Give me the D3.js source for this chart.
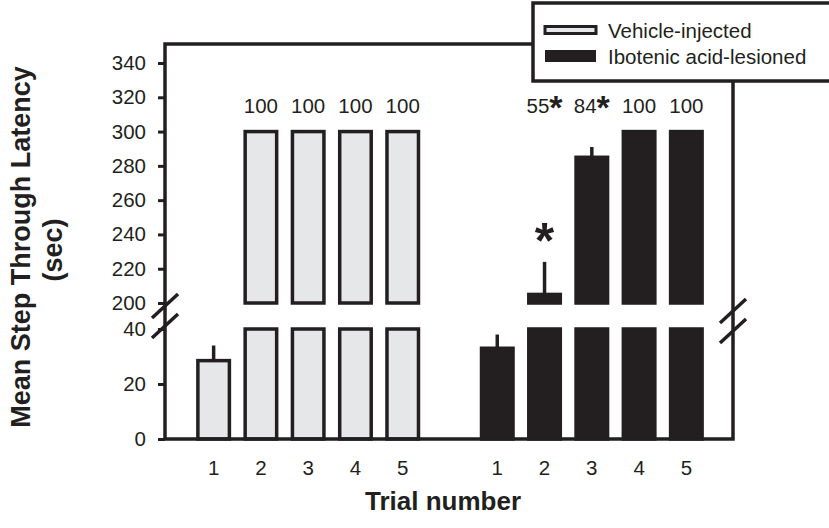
<!DOCTYPE html>
<html>
<head>
<meta charset="utf-8">
<script src="https://cdn.jsdelivr.net/npm/d3@7"></script>
<style>
  body { margin: 0; background: #fff; }
  text { font-family: "Liberation Sans", Arial, sans-serif; fill: #231f20; }
</style>
</head>
<body>
<svg id="chart" width="829" height="528"></svg>
<script>
// data
const trials = ['1', '2', '3', '4', '5']
const groups = ['Vehicle-injected', 'Ibotenic acid-lesioned']
const vehicleMean = [28.5, 300, 300, 300, 300]
const vehicleErr = [5.5, 0, 0, 0, 0]
const lesionMean = [33, 205, 285, 300, 300]
const lesionErr = [5, 19, 6, 0, 0]
const vehiclePct = ['', '100', '100', '100', '100']
const lesionPct = ['', '55', '84', '100', '100']
const lesionPctSig = [false, true, true, false, false]
const lesionBarSig = [false, true, false, false, false]
const upperTicks = [200, 220, 240, 260, 280, 300, 320, 340]
const lowerTicks = [0, 20, 40]

const dark = '#231f20'
const light = '#e6e7e8'
const lw = 3.5
const fs = '20.5px'

const svg = d3.select('#chart')

// frame
const frameLeft = 165, frameRight = 733, frameTop = 44, frameBottom = 439
const legendLeft = 533, legendBottom = 81

// two y segments with a break
const yLow = d3.scaleLinear().domain([0, 40]).range([frameBottom, 329])
const yHigh = d3.scaleLinear().domain([200, 340]).range([303, 63])

// slots: 5 vehicle, 1 gap, 5 lesioned
const slots = d3.range(11)
const x = d3.scaleBand().domain(slots).range([190, 710])
  .paddingInner(0.27).paddingOuter(0.135)

const bars = []
trials.forEach((t, i) => {
  bars.push({slot: i, trial: t, group: 0, mean: vehicleMean[i], err: vehicleErr[i],
    pct: vehiclePct[i], pctSig: false, barSig: false})
})
trials.forEach((t, i) => {
  bars.push({slot: i + 6, trial: t, group: 1, mean: lesionMean[i], err: lesionErr[i],
    pct: lesionPct[i], pctSig: lesionPctSig[i], barSig: lesionBarSig[i]})
})

const yOf = v => v <= 40 ? yLow(v) : yHigh(v)

const bw = x.bandwidth() - 3
const barG = svg.append('g')

// lower part of each bar
barG.selectAll('rect.low')
  .data(bars)
  .enter()
  .append('rect')
  .attr('x', d => x(d.slot) + (x.bandwidth() - bw) / 2)
  .attr('width', bw)
  .attr('y', d => yLow(Math.min(d.mean, 40)))
  .attr('height', d => yLow(0) - yLow(Math.min(d.mean, 40)))
  .attr('fill', d => d.group === 0 ? light : dark)
  .attr('stroke', dark)
  .attr('stroke-width', lw)

// upper part for bars above the break
barG.selectAll('rect.high')
  .data(bars.filter(d => d.mean > 200))
  .enter()
  .append('rect')
  .attr('x', d => x(d.slot) + (x.bandwidth() - bw) / 2)
  .attr('width', bw)
  .attr('y', d => yHigh(d.mean))
  .attr('height', d => yHigh(200) - yHigh(d.mean))
  .attr('fill', d => d.group === 0 ? light : dark)
  .attr('stroke', dark)
  .attr('stroke-width', lw)

// error bars (upper only)
barG.selectAll('line.err')
  .data(bars.filter(d => d.err > 0))
  .enter()
  .append('line')
  .attr('x1', d => x(d.slot) + x.bandwidth() / 2)
  .attr('x2', d => x(d.slot) + x.bandwidth() / 2)
  .attr('y1', d => yOf(d.mean))
  .attr('y2', d => yOf(d.mean + d.err))
  .attr('stroke', dark)
  .attr('stroke-width', lw)

// percentage labels
const pctText = barG.selectAll('text.pct')
  .data(bars.filter(d => d.pct))
  .enter()
  .append('text')
  .attr('x', d => x(d.slot) + x.bandwidth() / 2)
  .attr('y', yHigh(311))
  .attr('text-anchor', 'middle')
  .style('font-size', fs)
pctText.append('tspan').text(d => d.pct)
pctText.filter(d => d.pctSig)
  .append('tspan')
  .attr('dy', 6)
  .style('font-size', '34px')
  .style('font-weight', 'bold')
  .text('*')

// big asterisk over the significant bar
barG.selectAll('text.sig')
  .data(bars.filter(d => d.barSig))
  .enter()
  .append('text')
  .attr('x', d => x(d.slot) + x.bandwidth() / 2)
  .attr('y', d => yOf(d.mean + d.err) - 4)
  .attr('text-anchor', 'middle')
  .style('font-size', '50px')
  .style('font-weight', 'bold')
  .text('*')

// y axes
const yAxisHigh = svg.append('g')
  .attr('transform', 'translate(' + frameLeft + ',0)')
  .call(d3.axisLeft(yHigh).tickValues(upperTicks).tickSize(7).tickPadding(12))
const yAxisLow = svg.append('g')
  .attr('transform', 'translate(' + frameLeft + ',0)')
  .call(d3.axisLeft(yLow).tickValues(lowerTicks).tickSize(7).tickPadding(12))
;[yAxisHigh, yAxisLow].forEach(g => {
  g.select('.domain').remove()
  g.selectAll('.tick line').attr('stroke', dark).attr('stroke-width', 3)
  g.selectAll('.tick text')
    .style('font-size', fs)
    .style('font-family', '"Liberation Sans", Arial, sans-serif')
    .attr('fill', dark)
})

// frame lines
const frame = svg.append('g')
  .attr('stroke', dark)
  .attr('stroke-width', lw)
  .attr('fill', 'none')
frame.append('path')
  .attr('d', d3.line()([[legendLeft, frameTop], [frameLeft, frameTop], [frameLeft, frameBottom],
    [frameRight, frameBottom], [frameRight, legendBottom]]))

// break marks
const gapMid = (yHigh(200) + yLow(40)) / 2
const breaks = [{x: frameLeft, y: gapMid}, {x: frameRight, y: gapMid + 5}]
breaks.forEach(b => {
  ;[-10, 10].forEach(off => {
    frame.append('line')
      .attr('x1', b.x - 13).attr('y1', b.y + off + 12)
      .attr('x2', b.x + 13).attr('y2', b.y + off - 12)
  })
})

// x tick labels
svg.append('g').selectAll('text')
  .data(bars)
  .enter()
  .append('text')
  .attr('x', d => x(d.slot) + x.bandwidth() / 2)
  .attr('y', 475)
  .attr('text-anchor', 'middle')
  .style('font-size', fs)
  .text(d => d.trial)

// axis titles
svg.append('text')
  .attr('x', 443)
  .attr('y', 510)
  .attr('text-anchor', 'middle')
  .style('font-size', '26px')
  .style('font-weight', 'bold')
  .text('Trial number')

const yTitle = svg.append('g')
yTitle.append('text')
  .attr('transform', 'translate(30,247)rotate(-90)')
  .attr('text-anchor', 'middle')
  .style('font-size', '27px')
  .style('font-weight', 'bold')
  .text('Mean Step Through Latency')
yTitle.append('text')
  .attr('transform', 'translate(62,250)rotate(-90)')
  .attr('text-anchor', 'middle')
  .style('font-size', '27px')
  .style('font-weight', 'bold')
  .text('(sec)')

// legend
const legend = svg.append('g')
legend.append('rect')
  .attr('x', legendLeft).attr('y', 3)
  .attr('width', 829 - legendLeft + 10).attr('height', legendBottom - 3)
  .attr('fill', '#fff')
  .attr('stroke', dark)
  .attr('stroke-width', lw)
const items = legend.selectAll('g.item')
  .data(groups)
  .enter()
  .append('g')
  .attr('transform', (d, i) => 'translate(0,' + (30 + i * 26) + ')')
items.append('rect')
  .attr('x', 545).attr('width', 51)
  .attr('y', (d, i) => i === 0 ? -3.5 : -6)
  .attr('height', (d, i) => i === 0 ? 7 : 12)
  .attr('fill', (d, i) => i === 0 ? light : dark)
  .attr('stroke', dark)
  .attr('stroke-width', (d, i) => i === 0 ? 3 : 0)
items.append('text')
  .attr('x', 608)
  .attr('y', 8)
  .style('font-size', fs)
  .text(d => d)
</script>
</body>
</html>
